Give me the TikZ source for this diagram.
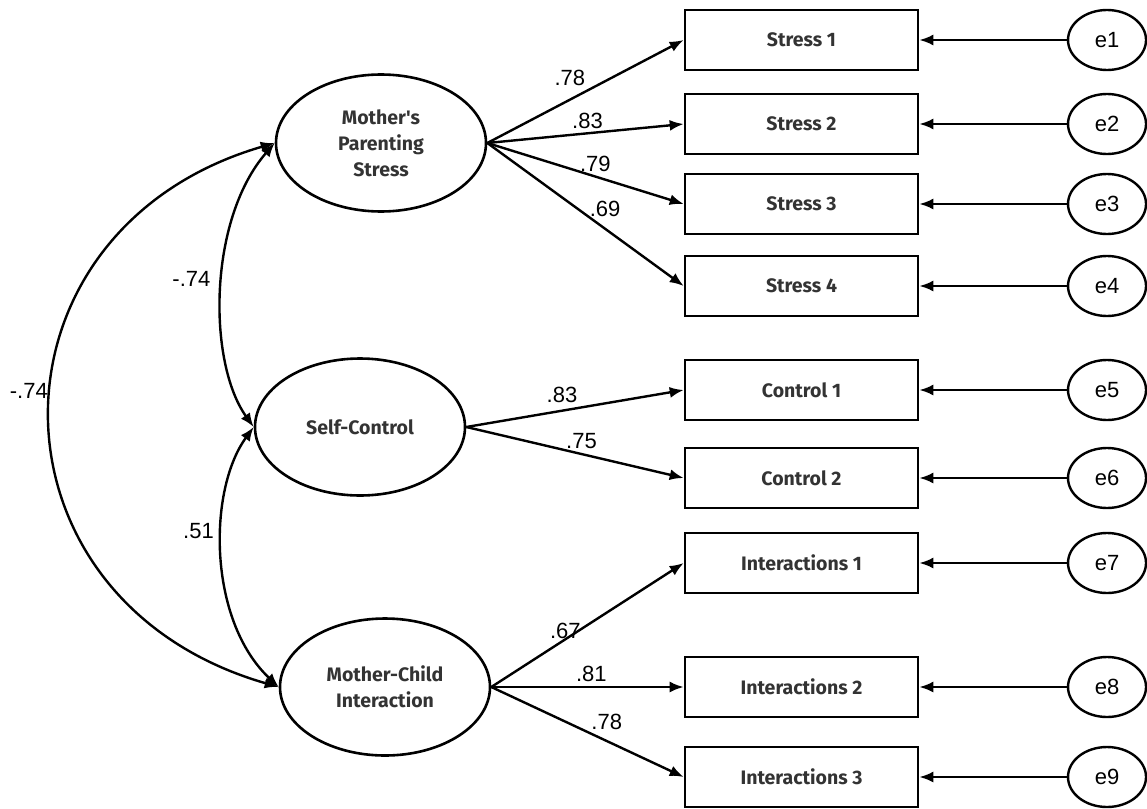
\documentclass[tikz,border=0pt]{standalone}
\usepackage{fontspec}
\setmainfont{Liberation Sans}
\newfontfamily\boxfont{Fira Sans}
\usepackage{xcolor}
\usetikzlibrary{
    arrows.meta,
    positioning,
    shapes.geometric
}
\definecolor{txtGray}{RGB}{51,51,51}
\tikzset{
  latent/.style  = {draw, ellipse, line width=2.6pt, minimum width=210pt,
                    minimum height=137pt, inner sep=0pt, align=center,
                    text=txtGray, font=\boxfont\bfseries\fontsize{19.5}{26}\selectfont},
  item/.style    = {draw, rectangle, line width=2.6pt, minimum width=233pt,
                    minimum height=60pt, inner sep=0pt,
                    text=txtGray, font=\boxfont\bfseries\fontsize{19.5}{24}\selectfont},
  err/.style     = {draw, ellipse, line width=2.4pt, minimum width=78pt,
                    minimum height=60pt, inner sep=0pt,
                    font=\fontsize{22}{26}\selectfont},
  arr/.style     = {-{Latex[length=14pt,width=11pt]}, line width=2.4pt},
  cov/.style     = {{Latex[length=14pt,width=11pt]}-{Latex[length=14pt,width=11pt]},
                    line width=2.4pt},
  wt/.style      = {font=\fontsize{22}{26}\selectfont, inner sep=2pt}
}

\begin{document}
\begin{tikzpicture}[x=1pt, y=-1pt]
  \useasboundingbox (0,0) rectangle (1147,808);

  % Latent variables
  \node[latent] (mps) at (381,143) {Mother\textquotesingle s\\Parenting\\Stress};
  \node[latent] (sc)  at (360,427) {Self-Control};
  \node[latent] (mci) at (385,687) {Mother-Child\\Interaction};

  % Observed variables
  \node[item] (s1) at (801.5,40)  {Stress 1};
  \node[item] (s2) at (801.5,124) {Stress 2};
  \node[item] (s3) at (801.5,204) {Stress 3};
  \node[item] (s4) at (801.5,286) {Stress 4};
  \node[item] (c1) at (801.5,390) {Control 1};
  \node[item] (c2) at (801.5,478) {Control 2};
  \node[item] (i1) at (801.5,563) {Interactions 1};
  \node[item] (i2) at (801.5,687) {Interactions 2};
  \node[item] (i3) at (801.5,777) {Interactions 3};

  % Error terms
  \node[err] (e1) at (1107,40)  {e1};
  \node[err] (e2) at (1107,124) {e2};
  \node[err] (e3) at (1107,204) {e3};
  \node[err] (e4) at (1107,286) {e4};
  \node[err] (e5) at (1107,390) {e5};
  \node[err] (e6) at (1107,478) {e6};
  \node[err] (e7) at (1107,563) {e7};
  \node[err] (e8) at (1107,687) {e8};
  \node[err] (e9) at (1107,777) {e9};

  % Loadings
  \draw[arr] (mps.east) -- (s1.west) node[wt, pos=0.42, above=11pt]{.78};
  \draw[arr] (mps.east) -- (s2.west) node[wt, pos=0.51, above=1pt]{.83};
  \draw[arr] (mps.east) -- (s3.west) node[wt, pos=0.55, above=2pt]{.79};
  \draw[arr] (mps.east) -- (s4.west) node[wt, pos=0.60, above=9pt]{.69};
  \draw[arr] (sc.east) -- (c1.west) node[wt, pos=0.44, above=5pt]{.83};
  \draw[arr] (sc.east) -- (c2.west) node[wt, pos=0.53, above=2pt]{.75};
  \draw[arr] (mci.east) -- (i1.west) node[wt, pos=0.385, above=-3pt]{.67};
  \draw[arr] (mci.east) -- (i2.west) node[wt, pos=0.52, above=2pt]{.81};
  \draw[arr] (mci.east) -- (i3.west) node[wt, pos=0.60, above=8pt]{.78};

  % Errors
  \draw[arr] (e1.west) -- (s1.east);
  \draw[arr] (e2.west) -- (s2.east);
  \draw[arr] (e3.west) -- (s3.east);
  \draw[arr] (e4.west) -- (s4.east);
  \draw[arr] (e5.west) -- (c1.east);
  \draw[arr] (e6.west) -- (c2.east);
  \draw[arr] (e7.west) -- (i1.east);
  \draw[arr] (e8.west) -- (i2.east);
  \draw[arr] (e9.west) -- (i3.east);

  % Correlations
  \draw[cov] (mps.west) .. controls +(-299,87) and +(-303,-87) .. (mci.west)
    node[wt, pos=0.465, left=1pt]{-.74};
  \draw[cov] (mps.west) .. controls +(-67,77) and +(-46,-64) .. (sc.west)
    node[wt, pos=0.466, left=9pt]{-.74};
  \draw[cov] (sc.west) .. controls +(-46,63) and +(-71,-67) .. (mci.west)
    node[wt, pos=0.416, left=5pt]{.51};
\end{tikzpicture}
\end{document}
